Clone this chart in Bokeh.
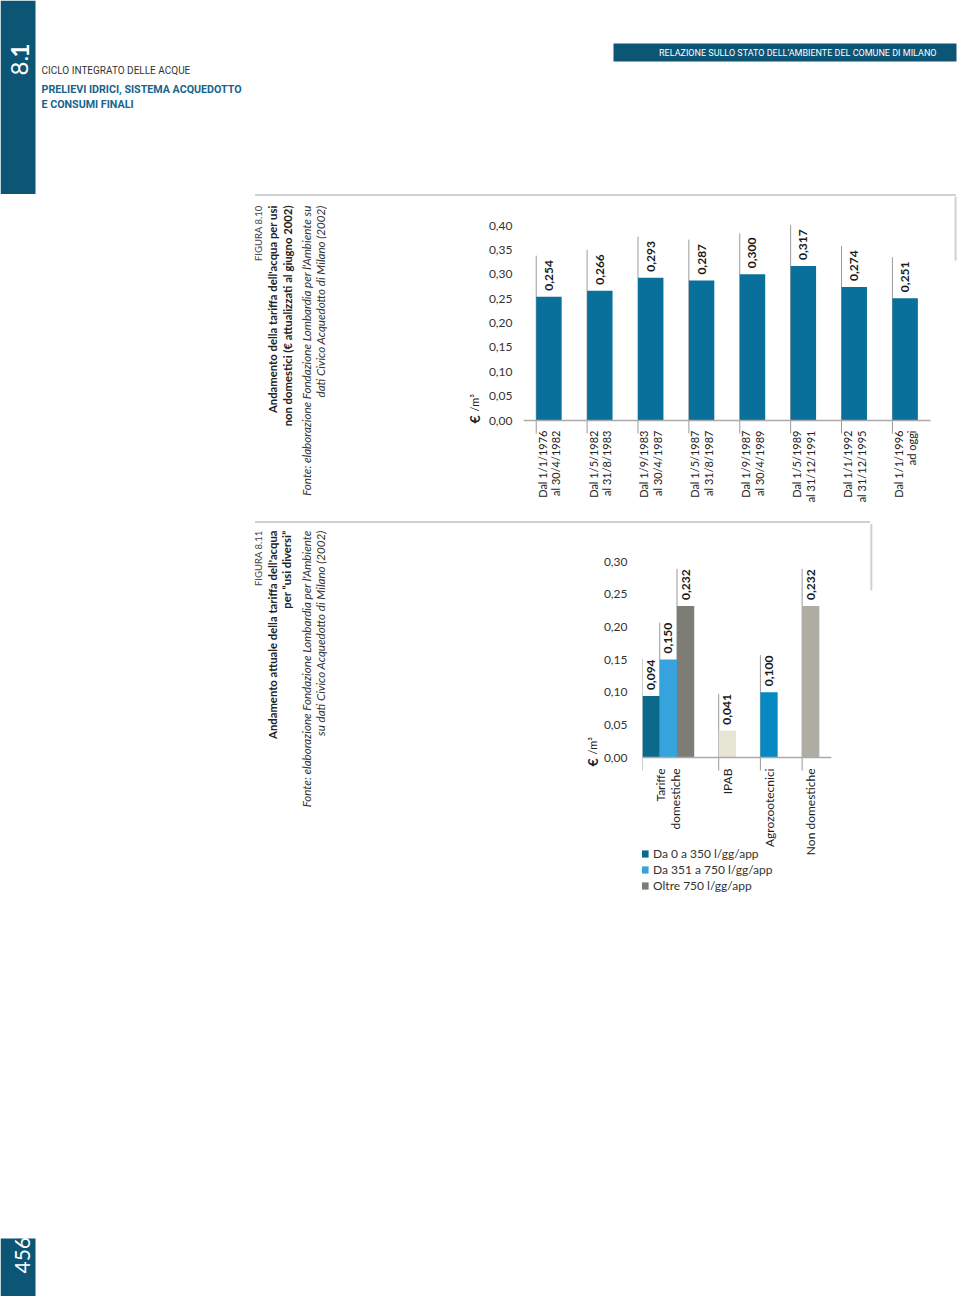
from math import pi
from bokeh.plotting import figure
from bokeh.layouts import column, row
from bokeh.models import Range1d, Legend, LegendItem, FixedTicker, CustomJSTickFormatter, Div
from bokeh.core.properties import value
from bokeh.embed import file_html
from bokeh.resources import INLINE

# ---------------- data ----------------
fig1_periods = [
    "Dal 1/1/1976\nal 30/4/1982",
    "Dal 1/5/1982\nal 31/8/1983",
    "Dal 1/9/1983\nal 30/4/1987",
    "Dal 1/5/1987\nal 31/8/1987",
    "Dal 1/9/1987\nal 30/4/1989",
    "Dal 1/5/1989\nal 31/12/1991",
    "Dal 1/1/1992\nal 31/12/1995",
    "Dal 1/1/1996\nad oggi",
]
fig1_values = [0.254, 0.266, 0.293, 0.287, 0.300, 0.317, 0.274, 0.251]
fig1_ticks = [0.00, 0.05, 0.10, 0.15, 0.20, 0.25, 0.30, 0.35, 0.40]

fig2_group = "Tariffe\ndomestiche"
fig2_tiers = ["Da 0 a 350 l/gg/app", "Da 351 a 750 l/gg/app", "Oltre 750 l/gg/app"]
fig2_tier_values = [0.094, 0.150, 0.232]
fig2_others = ["IPAB", "Agrozootecnici", "Non domestiche"]
fig2_other_values = [0.041, 0.100, 0.232]
fig2_ticks = [0.00, 0.05, 0.10, 0.15, 0.20, 0.25, 0.30]

# ---------------- styles ----------------
FONT = "Lato"
HFONT = "Roboto"
DARK = "#0d5575"
HEAD_BLUE = "#17648c"
C1 = "#08709a"
TIER_COLORS = ["#0b6a8b", "#36a3dd", "#7d7d76"]
OTHER_COLORS = ["#e7e5d3", "#0788c2", "#aeada1"]
LEADER = "#9a9a9a"
FRAME = "#d0d0d0"


def fmt(v):
    return f"{v:.3f}".replace(".", ",")


def blank(w, h, fill="white"):
    p = figure(width=w, height=h, x_range=Range1d(0, w), y_range=Range1d(0, h),
               x_axis_type=None, y_axis_type=None, toolbar_location=None,
               output_backend="svg", min_border=0)
    p.outline_line_color = None
    p.background_fill_color = fill
    p.border_fill_color = fill
    return p


class Page:
    def __init__(self, ox, oy, w, h):
        self.ox, self.oy, self.h = ox, oy, h
        self.p = blank(w, h)

    def X(self, px):
        return px - self.ox

    def Y(self, py):
        return self.oy + self.h - py

    def text(self, px, py, s, size, style="normal", color="#333", align="left",
             baseline="middle", angle=0.0, font=FONT):
        self.p.text(x=[self.X(px)], y=[self.Y(py)], text=[s], angle=angle,
                    text_align=align, text_baseline=baseline, text_font=value(font),
                    text_font_size=f"{size}px", text_font_style=style, text_color=color)

    def box(self, l, t, r, b, color):
        self.p.quad(left=[self.X(l)], right=[self.X(r)], top=[self.Y(t)],
                    bottom=[self.Y(b)], fill_color=color, line_color=None)


def rule_row(x0, x1, h=2):
    def d(w, color):
        return Div(text="", width=w, height=h, margin=0,
                   styles={"background-color": color, "width": f"{w}px", "height": f"{h}px"})
    return row(d(x0, "white"), d(x1 - x0, FRAME), d(960 - x1, "white"))


# ---------------- header ----------------
header = Page(0, 0, 960, 194)
header.box(0, 0, 35, 194, DARK)
header.text(19, 75, "8.", 24, color="white", angle=pi / 2)
header.text(19, 57, "1", 24, style="bold", color="white", angle=pi / 2)
header.text(41, 70, "CICLO INTEGRATO DELLE ACQUE", 10, color="#333", font=HFONT)
header.text(41, 89, "PRELIEVI IDRICI, SISTEMA ACQUEDOTTO", 10.7, style="bold", color=HEAD_BLUE, font=HFONT)
header.text(41, 104, "E CONSUMI FINALI", 10.7, style="bold", color=HEAD_BLUE, font=HFONT)
header.box(613, 43, 956, 61, DARK)
header.text(936, 52, "RELAZIONE SULLO STATO DELL\u2019AMBIENTE DEL COMUNE DI MILANO", 9,
            color="white", align="right", font=HFONT)

# ---------------- row 2 : figure 8.10 ----------------
decoA = Page(0, 196, 485, 325)
decoA.text(258, 205, "FIGURA 8.10", 9.5, color="#444", align="right", angle=pi / 2)
decoA.text(272, 205, "Andamento della tariffa dell'acqua per usi", 11.3, style="bold",
           color="#222", align="right", angle=pi / 2)
decoA.text(287, 205, "non domestici (\u20ac attualizzati al giugno 2002)", 11.3, style="bold",
           color="#222", align="right", angle=pi / 2)
decoA.text(306, 205, "Fonte: elaborazione Fondazione Lombardia per l'Ambiente su", 11.6,
           style="italic", color="#333", align="right", angle=pi / 2)
decoA.text(320, 205, "dati Civico Acquedotto di Milano (2002)", 11.6,
           style="italic", color="#333", align="right", angle=pi / 2)
decoA.text(474, 423, "\u20ac", 14, style="bold", color="#222", angle=pi / 2)
decoA.text(474, 411, "/m\u00b3", 11, color="#222", angle=pi / 2)

S1 = 487.5   # px per unit of value
U1 = 51.7    # px per category
F1_LEFT, F1_TOP, F1_ZERO, F1_BOTTOM = 516, 196, 420, 521
fig1 = figure(width=475, height=325,
              x_range=Range1d(0, (960 - F1_LEFT) / U1),
              y_range=Range1d(-(F1_BOTTOM - F1_ZERO) / S1, (F1_ZERO - F1_TOP) / S1),
              x_axis_type=None, toolbar_location=None, output_backend="svg",
              min_border_left=F1_LEFT - 485, min_border_right=0,
              min_border_top=0, min_border_bottom=0)
fig1.outline_line_color = None
fig1.ygrid.visible = False
ax = fig1.yaxis[0]
ax.ticker = FixedTicker(ticks=fig1_ticks)
ax.formatter = CustomJSTickFormatter(code="return tick.toFixed(2).replace('.', ',');")
ax.axis_line_color = None
ax.major_tick_line_color = None
ax.minor_tick_line_color = None
ax.major_label_standoff = 5
ax.major_label_text_font = FONT
ax.major_label_text_font_size = "12px"
ax.major_label_text_color = "#333"

n1 = len(fig1_values)
x1 = [i + 0.5 for i in range(n1)]
bw1 = 0.5
left1 = [x - bw1 / 2 for x in x1]
fig1.segment(x0=left1, y0=[-13 / S1] * n1, x1=left1, y1=[v + 41 / S1 for v in fig1_values],
             line_color=LEADER, line_width=1)
fig1.vbar(x=x1, top=fig1_values, bottom=0, width=bw1, fill_color=C1, line_color=None)
fig1.segment(x0=[0], y0=[0], x1=[n1], y1=[0], line_color="#aaaaaa", line_width=1.5)
fig1.text(x=x1, y=[v + 6 / S1 for v in fig1_values], text=[fmt(v) for v in fig1_values],
          angle=pi / 2, text_align="left", text_baseline="middle", text_font=value(FONT),
          text_font_size="12px", text_font_style="bold", text_color="#1a1a1a")
fig1.text(x=x1, y=[-10 / S1] * n1, text=fig1_periods, angle=pi / 2, text_align="right",
          text_baseline="middle", text_font=value(FONT), text_font_size="11px",
          text_color="#222", text_line_height=1.05)
fig1.segment(x0=[(955 - F1_LEFT) / U1], y0=[(F1_ZERO - F1_TOP) / S1],
             x1=[(955 - F1_LEFT) / U1], y1=[(F1_ZERO - 260) / S1],
             line_color=FRAME, line_width=2)

# ---------------- row 3 : figure 8.11 ----------------
decoB = Page(0, 523, 600, 377)
decoB.text(258, 530, "FIGURA 8.11", 9.5, color="#444", align="right", angle=pi / 2)
decoB.text(272, 530, "Andamento attuale della tariffa dell'acqua", 11.3, style="bold",
           color="#222", align="right", angle=pi / 2)
decoB.text(286, 530, "per \u201cusi diversi\u201d", 11.3, style="bold",
           color="#222", align="right", angle=pi / 2)
decoB.text(306, 530, "Fonte: elaborazione Fondazione Lombardia per l'Ambiente", 11.6,
           style="italic", color="#333", align="right", angle=pi / 2)
decoB.text(320, 530, "su dati Civico Acquedotto di Milano (2002)", 11.6,
           style="italic", color="#333", align="right", angle=pi / 2)
decoB.text(592, 766, "\u20ac", 14, style="bold", color="#222", angle=pi / 2)
decoB.text(592, 754, "/m\u00b3", 11, color="#222", angle=pi / 2)

S2 = 653.3
U2 = 17.4
F2_LEFT, F2_TOP, F2_ZERO, F2_BOTTOM = 639, 523, 757, 900
fig2 = figure(width=360, height=377,
              x_range=Range1d(0, (960 - F2_LEFT) / U2),
              y_range=Range1d(-(F2_BOTTOM - F2_ZERO) / S2, (F2_ZERO - F2_TOP) / S2),
              x_axis_type=None, toolbar_location=None, output_backend="svg",
              min_border_left=F2_LEFT - 600, min_border_right=0,
              min_border_top=0, min_border_bottom=0)
fig2.outline_line_color = None
fig2.ygrid.visible = False
ax2 = fig2.yaxis[0]
ax2.ticker = FixedTicker(ticks=fig2_ticks)
ax2.formatter = CustomJSTickFormatter(code="return tick.toFixed(2).replace('.', ',');")
ax2.axis_line_color = None
ax2.major_tick_line_color = None
ax2.minor_tick_line_color = None
ax2.major_label_standoff = 9
ax2.major_label_text_font = FONT
ax2.major_label_text_font_size = "12px"
ax2.major_label_text_color = "#333"

GAP2 = 1.42
nt = len(fig2_tiers)
tier_x = [i + 0.5 for i in range(nt)]
other_left = []
pos = nt
for _ in fig2_others:
    pos += GAP2
    other_left.append(pos)
    pos += 1
other_x = [l + 0.5 for l in other_left]
cat_left = [0] + other_left
cat_center = [nt / 2] + other_x
cat_labels = [fig2_group] + fig2_others

bar_lefts = [x - 0.5 for x in tier_x] + other_left
bar_tops = fig2_tier_values + fig2_other_values
fig2.segment(x0=bar_lefts, y0=[0] * len(bar_lefts), x1=bar_lefts,
             y1=[v + 37 / S2 for v in bar_tops], line_color=LEADER, line_width=1)
fig2.segment(x0=cat_left, y0=[0] * len(cat_left), x1=cat_left,
             y1=[-13 / S2] * len(cat_left), line_color=LEADER, line_width=1)

tier_renderers = []
for xx, vv, cc in zip(tier_x, fig2_tier_values, TIER_COLORS):
    r = fig2.vbar(x=[xx], top=[vv], bottom=0, width=1.0, fill_color=cc, line_color=None)
    tier_renderers.append(r)
fig2.vbar(x=other_x, top=fig2_other_values, bottom=0, width=1.0,
          fill_color=OTHER_COLORS, line_color=None)
fig2.segment(x0=[0], y0=[0], x1=[pos + 0.7], y1=[0], line_color="#aaaaaa", line_width=1.5)

all_x = tier_x + other_x
fig2.text(x=all_x, y=[v + 6 / S2 for v in bar_tops], text=[fmt(v) for v in bar_tops],
          angle=pi / 2, text_align="left", text_baseline="middle", text_font=value(FONT),
          text_font_size="12px", text_font_style="bold", text_color="#1a1a1a")
fig2.text(x=cat_center, y=[-11 / S2] * len(cat_center), text=cat_labels, angle=pi / 2,
          text_align="right", text_baseline="middle", text_font=value(FONT),
          text_font_size="12px", text_color="#222", text_line_height=1.0)
fig2.segment(x0=[(870 - F2_LEFT) / U2], y0=[(F2_ZERO - F2_TOP) / S2],
             x1=[(870 - F2_LEFT) / U2], y1=[(F2_ZERO - 590) / S2],
             line_color=FRAME, line_width=2)

legend = Legend(items=[LegendItem(label=t, renderers=[r]) for t, r in zip(fig2_tiers, tier_renderers)],
                location=(-2, 7), orientation="vertical", padding=0, margin=0, spacing=0,
                glyph_width=9, glyph_height=9, label_height=16, label_standoff=4,
                label_text_font=FONT, label_text_font_size="12px", label_text_color="#333",
                border_line_color=None, background_fill_alpha=0)
fig2.add_layout(legend)

# ---------------- footer ----------------
footer = Page(0, 900, 960, 396)
footer.box(0, 1238, 35, 1296, DARK)
footer.text(22, 1273, "456", 21, color="white", angle=pi / 2)

page = column(header.p, rule_row(255, 956), row(decoA.p, fig1), rule_row(255, 870),
              row(decoB.p, fig2), footer.p)

open("out.html", "w").write(file_html(page, INLINE))
